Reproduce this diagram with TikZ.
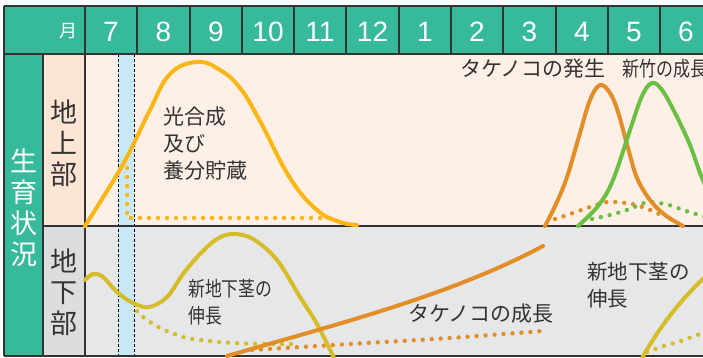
\documentclass[tikz,border=0pt]{standalone}
\usepackage{graphicx}
\usepackage{fontspec}
\setmainfont{Liberation Sans}
\newfontfamily\jp{Noto Sans CJK JP}
\definecolor{hdr}{HTML}{37B99B}
\definecolor{upbg}{HTML}{FEF0E6}
\definecolor{uplab}{HTML}{FDE5D5}
\definecolor{lobg}{HTML}{E6E7E8}
\definecolor{lolab}{HTML}{DCDDDE}
\definecolor{band}{HTML}{C8E8F6}
\definecolor{cyel}{HTML}{FCB614}
\definecolor{colv}{HTML}{D6BC29}
\definecolor{cora}{HTML}{E38D27}
\definecolor{cgrn}{HTML}{6BBF45}
\definecolor{txt}{HTML}{333333}
\definecolor{rulec}{HTML}{333333}
\begin{document}
\begin{tikzpicture}[x=1pt,y=-1pt,
  rulel/.style={draw=rulec,line width=1.3pt},
  curve/.style={line width=4pt,line cap=round,line join=round},
  dotline/.style={line width=4.4pt,line cap=round,dash pattern=on 0pt off 9pt},
  month/.style={text=white,inner sep=0pt,font=\fontsize{28}{28}\selectfont},
  vlab/.style={inner sep=0pt,align=center,font=\jp\fontsize{27}{31}\selectfont},
  note/.style={text=txt,inner sep=0pt,anchor=north west,align=left},
  bandline/.style={draw=black,line width=0.7pt,dash pattern=on 3pt off 2pt}]
\clip (0,0) rectangle (703,357);
\fill[white] (0,0) rectangle (703,357);
% backgrounds
\fill[hdr] (4,6) rectangle (720,54);
\fill[hdr] (4,54) rectangle (43,356);
\fill[uplab] (43,54) rectangle (85,226);
\fill[lolab] (43,226) rectangle (85,356);
\fill[upbg] (85,54) rectangle (720,226);
\fill[lobg] (85,226) rectangle (720,356);
% band
\fill[band] (118,54) rectangle (134,356);
\draw[bandline] (118,54) -- (118,356);
\draw[bandline] (134,54) -- (134,356);
% grid
\draw[rulel] (4,6) -- (720,6);
\draw[rulel] (4,54) -- (720,54);
\draw[rulel] (43,226) -- (720,226);
\draw[rulel] (4,356) -- (720,356);
\draw[rulel] (4,6) -- (4,356);
\draw[rulel] (43,54) -- (43,356);
\draw[rulel] (85,6) -- (85,356);
\foreach \xx in {137,190,242,294,346,399,451,503,556,608,660,712}
  \draw[rulel] (\xx,6) -- (\xx,54);
% header texts
\node[text=white,inner sep=0pt,font=\jp\fontsize{18}{18}\selectfont] (mh) at (68,31.5) {月};
\foreach \m/\xc [count=\i] in {7/111,8/163.5,9/216,10/268,11/320,12/372.5,1/425,2/477,3/529.5,4/582,5/634,6/686}
  \node[month] (m\i) at (\xc,32) {\m};
% left labels
\node[vlab,text=white] (gs) at (23.5,208) {生\\育\\状\\況};
\node[vlab,text=txt] (ue) at (64,143.5) {地\\上\\部};
\node[vlab,text=txt] (shita) at (64,292.5) {地\\下\\部};
% upper curves
\draw[dotline,cyel] (127,168) -- (127,218) -- (330,218);
\draw[curve,cyel] plot[smooth,tension=0.7] coordinates {(85,226) (118,173) (134,143) (150,110) (170,74) (197,62) (220,70) (240,88) (260,121) (290,178) (317,210) (340,222) (357,225)};
\draw[dotline,cora] plot[smooth] coordinates {(555,219) (573,213) (590,207) (607,202) (615,202) (632,204) (648,209) (659,214)};
\draw[dotline,cgrn] plot[smooth] coordinates {(592,219) (610,215) (627,210) (644,203) (652,202) (669,205) (686,211) (703,216) (715,219)};
\draw[curve,cora] plot[smooth,tension=0.6] coordinates {(545,226) (556,204) (567,177) (580,133) (590,100) (600,85) (610,93) (618,112) (628,148) (637,178) (650,200) (665,215) (683,226)};
\draw[curve,cgrn] plot[smooth,tension=0.6] coordinates {(578,226) (598,206) (613,180) (630,130) (642,96) (652,83) (662,90) (675,113) (690,145) (702,178) (715,205) (725,226)};
% lower curves
\draw[dotline,colv] plot[smooth] coordinates {(137,311) (143,317) (160,328) (183,337) (200,340) (233,343) (270,344) (300,344)};
\draw[dotline,cora] plot[smooth] coordinates {(252,350) (350,344) (450,338) (542,331)};
\draw[curve,colv] plot[smooth,tension=0.6] coordinates {(85,280) (93,274) (103,277) (117,292) (133,303) (149,307) (167,297) (183,274) (200,254) (217,239) (233,234) (253,239) (277,260) (300,297) (317,324) (335,360)};
\draw[curve,cora] (227,356) .. controls (330,326) and (450,296) .. (543,246);
\draw[dotline,colv] plot[smooth] coordinates {(647,352) (664,346) (681,341) (697,335) (710,332)};
\draw[curve,colv] (642,358) .. controls (655,335) and (675,305) .. (705,277);
% notes
\node[note,font=\jp\fontsize{21}{27}\selectfont] (kg) at (163,107) {光合成\\及び\\養分貯蔵};
\node[note,font=\jp\fontsize{20.5}{27}\selectfont] (sl) at (188,279) {\scalebox{0.82}[1]{新地下茎の}\\\scalebox{0.82}[1]{伸長}};
\node[note,font=\jp\fontsize{20.5}{27}\selectfont] (sr) at (587,262) {新地下茎の\\伸長};
\node[note,font=\jp\fontsize{21}{27}\selectfont] (th) at (460,59) {タケノコの発生};
\node[note,font=\jp\fontsize{20.5}{27}\selectfont] (sc) at (622,59) {\scalebox{0.83}[1]{新竹の成長}};
\node[note,font=\jp\fontsize{21}{27}\selectfont] (ts) at (408,304) {タケノコの成長};
\end{tikzpicture}
\end{document}
